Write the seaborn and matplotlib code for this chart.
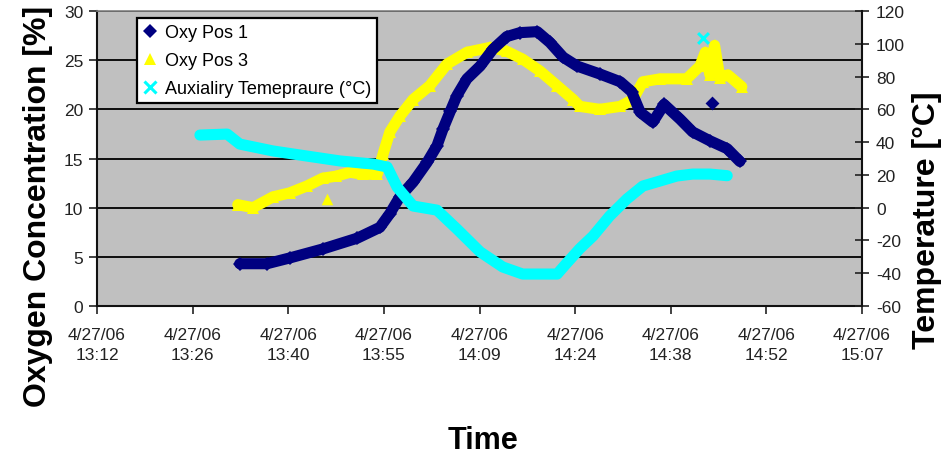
import matplotlib
matplotlib.use("Agg")
import matplotlib.pyplot as plt
import seaborn as sns
import pandas as pd
import numpy as np
from matplotlib.lines import Line2D

# ---------------- data (time in minutes after midnight, 4/27/06) ----------------
pos1_time = [813.5, 817.6, 821.1, 826.0, 831.2, 834.6, 836.1, 837.6, 839.6, 841.7,
             843.2, 844.1, 845.2, 846.2, 847.7, 849.7, 851.6, 853.7, 855.7, 858.3,
             860.2, 862.2, 864.3, 867.7, 870.8, 872.5, 873.8, 875.7, 877.4, 879.8,
             881.7, 884.3, 886.9, 888.8]
pos1_oxy = [4.3, 4.3, 4.9, 5.8, 6.9, 8.0, 9.4, 11.1, 12.6, 14.6,
            16.3, 18.0, 19.8, 21.4, 23.1, 24.4, 26.1, 27.4, 27.8, 27.9,
            26.8, 25.3, 24.4, 23.6, 22.8, 21.8, 19.7, 18.7, 20.5, 19.0,
            17.7, 16.8, 16.0, 14.7]
pos1_out_time = [884.6]
pos1_out_oxy = [20.6]

pos3_time = [813.2, 815.5, 818.5, 821.0, 823.6, 826.0, 828.0, 830.1, 832.0, 834.2,
             835.1, 836.1, 837.6, 839.6, 842.1, 844.7, 847.7, 851.2, 853.7, 856.1,
             858.7, 861.3, 863.7, 864.7, 867.7, 870.8, 872.7, 874.2, 876.8, 880.8,
             882.8, 883.6, 884.3, 885.0, 885.8, 887.0, 889.1]
pos3_oxy = [10.3, 10.0, 11.1, 11.5, 12.2, 13.0, 13.2, 13.6, 13.4, 13.4,
            15.5, 17.7, 19.3, 21.0, 22.4, 24.6, 25.8, 26.3, 25.9, 25.1,
            23.9, 22.4, 21.0, 20.3, 20.0, 20.3, 21.0, 22.8, 23.1, 23.1,
            24.4, 25.8, 23.5, 26.5, 23.2, 23.5, 22.3]
pos3_out_time = [826.6]
pos3_out_oxy = [10.9]

temp_time = [807.5, 811.6, 813.5, 818.5, 823.6, 828.6, 833.6, 835.7, 837.2, 839.6,
             843.2, 846.2, 849.7, 853.1, 856.1, 861.3, 862.7, 864.7, 866.7, 869.2,
             871.8, 874.2, 876.8, 879.3, 881.7, 884.3, 886.9]
temp_val = [44.3, 44.9, 38.8, 34.6, 31.5, 28.5, 26.6, 24.8, 12.5, 1.0,
            -1.5, -13.0, -27.0, -36.2, -40.5, -40.5, -34.0, -25.0, -17.3, -5.1,
            5.3, 13.2, 16.3, 19.3, 20.5, 20.5, 19.5]
temp_out_time = [883.3]
temp_out_val = [103.5]

tick_labels = ["4/27/06\n13:12", "4/27/06\n13:26", "4/27/06\n13:40", "4/27/06\n13:55",
               "4/27/06\n14:09", "4/27/06\n14:24", "4/27/06\n14:38", "4/27/06\n14:52",
               "4/27/06\n15:07"]
series_names = ["Oxy Pos 1", "Oxy Pos 3", "Auxialiry Temepraure (°C)"]

# ---------------- style ----------------
NAVY = "#000080"
YELLOW = "#FFFF00"
CYAN = "#00FFFF"
BG = "#C0C0C0"

plt.rcParams['font.family'] = ['Liberation Sans', 'DejaVu Sans']
plt.rcParams['axes.unicode_minus'] = False

fig = plt.figure(figsize=(9.5, 4.56), dpi=100)
ax = fig.add_axes([97/950, 1-307/456, 765/950, 295/456])
ax.set_facecolor(BG)
ax2 = ax.twinx()

line_kw = dict(solid_joinstyle="round", solid_capstyle="round", markeredgewidth=0)

sns.lineplot(x=pos3_time, y=pos3_oxy, ax=ax, color=YELLOW, lw=8, marker="^",
             markersize=8, sort=False, estimator=None, **line_kw)
sns.scatterplot(x=pos3_out_time, y=pos3_out_oxy, ax=ax, color=YELLOW, marker="^",
                s=70, linewidth=0)
sns.lineplot(x=pos1_time, y=pos1_oxy, ax=ax, color=NAVY, lw=8, marker="D",
             markersize=7, sort=False, estimator=None, **line_kw)
sns.scatterplot(x=pos1_out_time, y=pos1_out_oxy, ax=ax, color=NAVY, marker="D",
                s=50, linewidth=0)
sns.lineplot(x=temp_time, y=temp_val, ax=ax2, color=CYAN, lw=8,
             sort=False, estimator=None, solid_joinstyle="round", solid_capstyle="round")
sns.scatterplot(x=temp_out_time, y=temp_out_val, ax=ax2, color=CYAN, marker="x",
                s=60, linewidth=2.2)

# axes limits & ticks
xt = 792 + 14.4 * np.arange(len(tick_labels))
ax.set_xlim(xt[0], xt[-1])
ax.set_xticks(xt)
ax.set_xticklabels(tick_labels, fontsize=12.5, color="#222222")
for lab in ax.get_xticklabels():
    lab.set_linespacing(1.4)
ax.set_ylim(0, 30)
ax.set_yticks(np.arange(0, 31, 5))
ax2.set_ylim(-60, 120)
ax2.set_yticks(np.arange(-60, 121, 20))

ax.tick_params(axis="x", direction="out", length=6, width=1.2, pad=9, color="#222222")
ax.tick_params(axis="y", direction="out", length=6, width=1.2, pad=4,
               labelsize=12.5, labelcolor="#222222", color="#222222")
ax2.tick_params(axis="y", direction="inout", length=10, width=1.2, pad=5,
                labelsize=12.5, labelcolor="#222222", color="#222222")

ax.yaxis.grid(True, color="black", lw=1.3)
ax.xaxis.grid(False)
ax.set_axisbelow(True)

for sp in ["left", "bottom"]:
    ax.spines[sp].set_color("#111111")
    ax.spines[sp].set_linewidth(1.5)
ax.spines["top"].set_color("#808080")
ax.spines["top"].set_linewidth(1.2)
ax.spines["right"].set_visible(False)
ax2.spines["right"].set_color("#111111")
ax2.spines["right"].set_linewidth(1.5)
for sp in ["left", "bottom", "top"]:
    ax2.spines[sp].set_visible(False)

# labels
ax.set_ylabel("Oxygen Concentration [%]", fontsize=23, fontweight="bold")
ax.yaxis.set_label_coords(-0.057, 0.34)
ax2.set_ylabel("Temperature [°C]", fontsize=23, fontweight="bold")
ax2.yaxis.set_label_coords(1.066, 0.295)
ax.set_xlabel("Time", fontsize=22, fontweight="bold")
ax.xaxis.set_label_coords(0.505, -0.405)

# legend
handles = [
    Line2D([], [], ls="none", marker="D", color=NAVY, markersize=7, markeredgewidth=0),
    Line2D([], [], ls="none", marker="^", color=YELLOW, markersize=8, markeredgewidth=0),
    Line2D([], [], ls="none", marker="x", color=CYAN, markersize=8, markeredgewidth=2.2),
]
if ax.get_legend() is not None:
    ax.get_legend().remove()
if ax2.get_legend() is not None:
    ax2.get_legend().remove()
leg = ax2.legend(handles, series_names, loc="upper left",
                 bbox_to_anchor=(0.052, 0.976), borderaxespad=0, fontsize=13,
                 frameon=True, fancybox=False, framealpha=1, edgecolor="black",
                 handlelength=0.8, handletextpad=0.4, borderpad=0.35,
                 labelspacing=0.6)
leg.get_frame().set_linewidth(1.6)

fig.savefig("out.png", dpi=100, facecolor="white")
